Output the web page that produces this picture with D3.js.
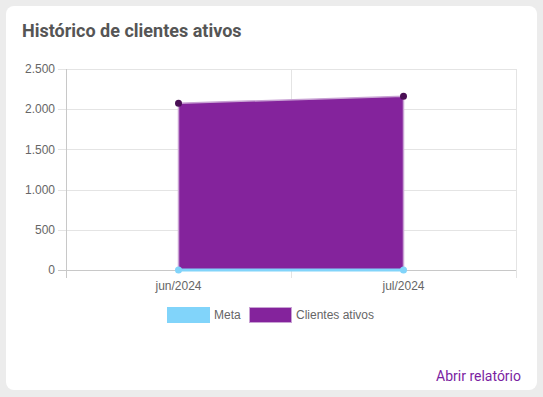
<!DOCTYPE html>
<html>
<head>
<meta charset="utf-8">
<script src="https://cdn.jsdelivr.net/npm/d3@7"></script>
<style>
  html, body { margin: 0; padding: 0; background: #ececec; }
  body { width: 543px; height: 397px; position: relative; overflow: hidden; }
  .card {
    position: absolute; left: 6px; top: 6px; width: 531px; height: 384px;
    background: #fff; border-radius: 8px;
  }
  .title {
    position: absolute; left: 16px; top: 14px; margin: 0;
    font: bold 18px Roboto, sans-serif; color: #555;
  }
  .link {
    position: absolute; right: 16px; bottom: 6px;
    font: 14px Roboto, sans-serif; color: #7b1fa2;
  }
  svg { position: absolute; left: 0; top: 0; }
</style>
</head>
<body>
<div class="card">
  <h3 class="title">Histórico de clientes ativos</h3>
  <span class="link">Abrir relatório</span>
</div>
<script>
const months = ['jun/2024', 'jul/2024'];
const clientesAtivos = [2075, 2160];
const meta = [0, 0];
const yTicks = [0, 500, 1000, 1500, 2000, 2500];

const width = 543, height = 397;
const margin = { top: 69, right: 27, bottom: 127, left: 66 };

const svg = d3.select('body').append('svg')
  .attr('width', width)
  .attr('height', height);

const x = d3.scaleBand()
  .domain(months)
  .range([margin.left, width - margin.right]);

const y = d3.scaleLinear()
  .domain([0, 2500])
  .range([height - margin.bottom, margin.top]);

const fontFam = '"Liberation Sans", Arial, sans-serif';
const cx = d => x(d) + x.bandwidth() / 2;

// horizontal grid + y labels
const yAxis = svg.append('g');
yAxis.selectAll('line')
  .data(yTicks)
  .enter().append('line')
  .attr('x1', margin.left - 8)
  .attr('x2', width - margin.right)
  .attr('y1', d => Math.round(y(d)) + 0.5)
  .attr('y2', d => Math.round(y(d)) + 0.5)
  .style('stroke', d => d === 0 ? '#c8c8c8' : '#e4e4e4')
  .style('stroke-width', 1);

yAxis.selectAll('text')
  .data(yTicks)
  .enter().append('text')
  .attr('x', margin.left - 11)
  .attr('y', d => y(d))
  .attr('dy', '0.35em')
  .attr('text-anchor', 'end')
  .style('font', '12px ' + fontFam)
  .style('fill', '#666')
  .text(d => d3.format(',')(d).replace(/,/g, '.'));

// vertical grid at band edges
const edges = months.map(m => x(m)).concat([x.range()[1]]);
svg.append('g').selectAll('line')
  .data(edges)
  .enter().append('line')
  .attr('x1', d => Math.round(d) + 0.5)
  .attr('x2', d => Math.round(d) + 0.5)
  .attr('y1', margin.top)
  .attr('y2', height - margin.bottom + 8)
  .style('stroke', (d, i) => i === 0 ? '#c8c8c8' : '#e4e4e4')
  .style('stroke-width', 1);

// x labels
svg.append('g').selectAll('text')
  .data(months)
  .enter().append('text')
  .attr('x', d => cx(d))
  .attr('y', height - margin.bottom + 20)
  .attr('text-anchor', 'middle')
  .style('font', '12px ' + fontFam)
  .style('fill', '#666')
  .text(d => d);

// clientes ativos area
const area = d3.area()
  .x((d, i) => cx(months[i]))
  .y0(y(0))
  .y1(d => y(d));

svg.append('path')
  .datum(clientesAtivos)
  .attr('d', area)
  .style('fill', '#84239c')
  .style('stroke', '#c9a2d4')
  .style('stroke-width', 1.5);

// meta line
const line = d3.line()
  .x((d, i) => cx(months[i]))
  .y(d => y(d));

svg.append('path')
  .datum(meta)
  .attr('d', line)
  .style('fill', 'none')
  .style('stroke', '#81d4fa')
  .style('stroke-width', 3);

svg.append('g').selectAll('circle')
  .data(meta)
  .enter().append('circle')
  .attr('cx', (d, i) => cx(months[i]))
  .attr('cy', d => y(d))
  .attr('r', 3.5)
  .style('fill', '#81d4fa');

svg.append('g').selectAll('circle')
  .data(clientesAtivos)
  .enter().append('circle')
  .attr('cx', (d, i) => cx(months[i]))
  .attr('cy', d => y(d))
  .attr('r', 3.5)
  .style('fill', '#4a0f55');

// legend
const legendItems = [
  { label: 'Meta', fill: '#81d4fa', stroke: '#81d4fa' },
  { label: 'Clientes ativos', fill: '#84239c', stroke: '#c9a2d4' }
];
const legendX = [167, 249];
const legend = svg.append('g');
legendItems.forEach((item, i) => {
  legend.append('rect')
    .attr('x', legendX[i] + 0.5)
    .attr('y', 307.5)
    .attr('width', 42)
    .attr('height', 15)
    .style('fill', item.fill)
    .style('stroke', item.stroke)
    .style('stroke-width', 1);
  legend.append('text')
    .attr('x', legendX[i] + 47)
    .attr('y', 315)
    .attr('dy', '0.35em')
    .style('font', '12px ' + fontFam)
    .style('fill', '#666')
    .text(item.label);
});
</script>
</body>
</html>
